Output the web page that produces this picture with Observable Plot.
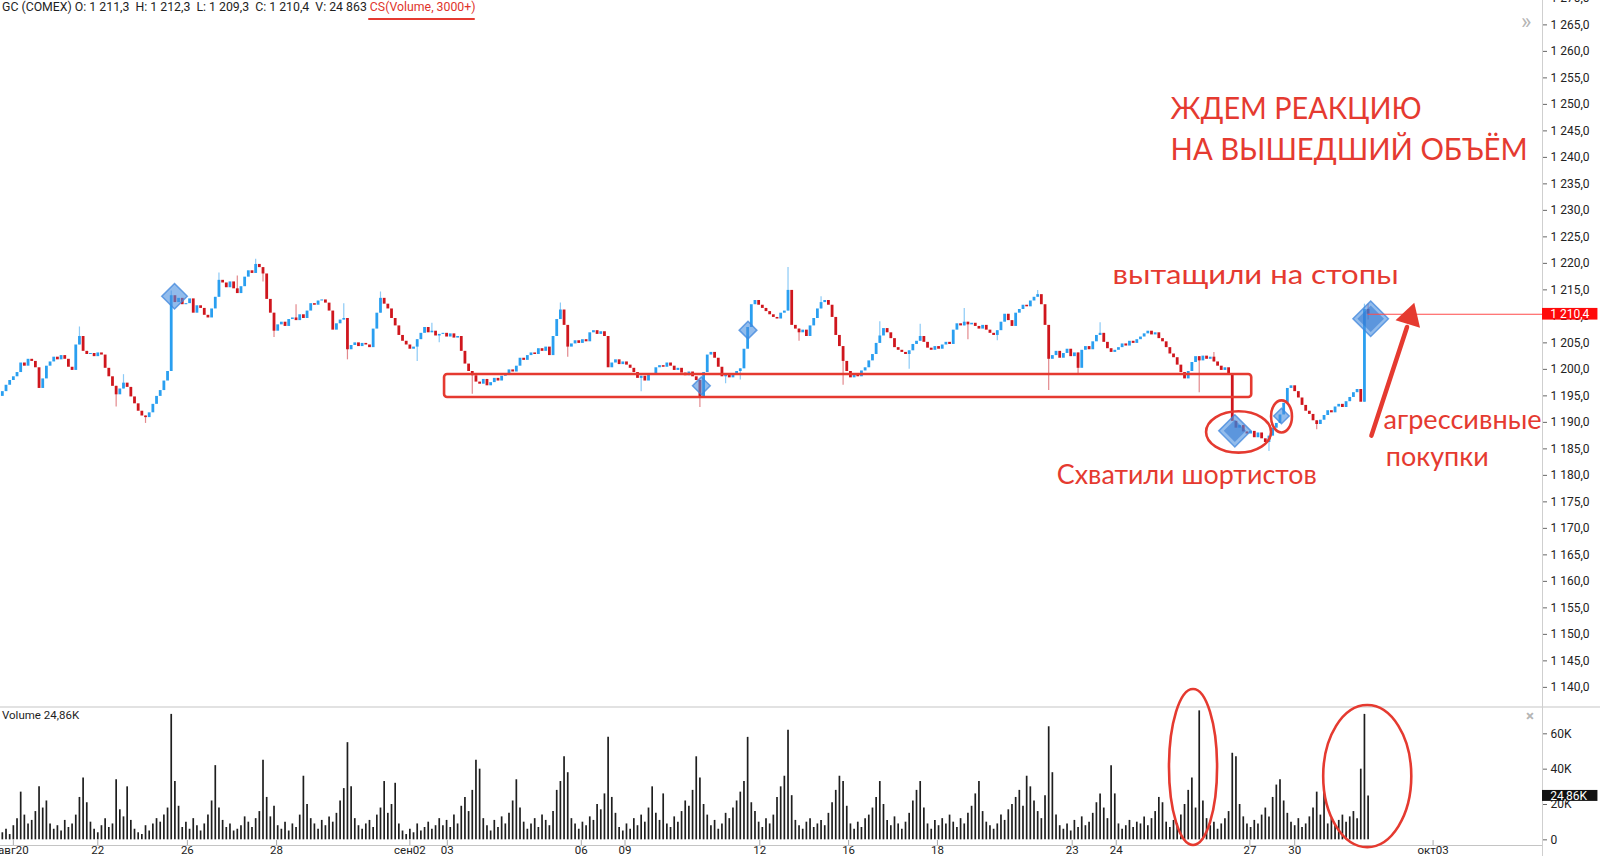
<!DOCTYPE html>
<html><head><meta charset="utf-8">
<script src="https://cdn.jsdelivr.net/npm/d3@7"></script>
<script src="https://cdn.jsdelivr.net/npm/@observablehq/plot@0.6"></script>
<style>
html,body{margin:0;padding:0;background:#fff;}
#wrap{position:relative;width:1600px;height:856px;overflow:hidden;font-family:Roboto,"Noto Sans",sans-serif;color:#222;}
#wrap svg{position:absolute;left:0;}
.hdr{position:absolute;left:2px;top:0px;font-size:12.3px;line-height:15px;white-space:pre;color:#1e1e1e;}
.hdr .cs{color:#e0332b;}
.uline{position:absolute;left:368px;top:18px;width:107px;height:2px;background:#e53a30;border-radius:1px;}
.sep{position:absolute;left:0;top:706px;width:1600px;height:2px;background:#e2e2e2;}
.vax{position:absolute;left:1542px;top:0;width:1px;height:856px;background:#cfcfcf;}
.chev{position:absolute;left:1521px;top:10px;font-size:22px;color:#b5b5b5;line-height:24px;}
.close{position:absolute;left:1526px;top:707px;font-size:15px;font-weight:bold;color:#b5b5b5;line-height:18px;}
.vlab{position:absolute;left:2px;top:708px;font-size:11.5px;line-height:14px;color:#1e1e1e;}
</style></head>
<body><div id="wrap"></div>
<script>
// ---------------- DATA ----------------
// 2-hour bars, GC (COMEX), 20 Aug – 2 Oct; close prices
const firstOpen = 1194.9;
const closes = [
1195.8,1197.0,1197.9,1198.6,1199.4,1201.2,1200.6,1201.9,1201.5,1200.3,
1196.4,1198.2,1200.6,1201.4,1202.3,1201.8,1202.6,1201.9,1200.4,1199.8,
1204.6,1206.2,1203.4,1202.8,1203.0,1202.4,1203.1,1202.7,1200.2,1198.6,
1196.8,1195.2,1196.3,1197.4,1196.6,1194.8,1193.5,1192.1,1191.2,1190.9,
1191.8,1193.4,1194.9,1196.0,1197.8,1199.6,1213.9,1212.6,1213.4,1212.2,
1212.4,1213.3,1210.6,1212.0,1211.5,1210.2,1209.7,1211.4,1213.6,1216.8,
1216.3,1215.4,1216.5,1215.2,1214.3,1215.6,1217.4,1218.6,1218.1,1219.8,
1219.2,1218.0,1213.2,1210.6,1207.2,1208.4,1208.9,1208.1,1209.4,1209.7,
1209.2,1210.3,1209.6,1211.0,1212.4,1212.1,1212.9,1213.1,1212.5,1211.0,
1207.4,1208.6,1209.3,1209.6,1203.7,1204.5,1205.0,1204.3,1204.9,1204.6,
1204.1,1207.6,1210.6,1213.4,1212.3,1211.4,1209.6,1208.2,1206.4,1205.3,
1204.6,1203.8,1204.2,1205.6,1206.8,1207.9,1206.9,1207.2,1206.3,1206.6,
1206.8,1206.1,1206.7,1205.9,1206.2,1203.4,1201.0,1199.6,1198.8,1197.6,
1197.2,1198.1,1196.9,1197.5,1198.3,1197.8,1198.7,1199.2,1199.9,1199.5,
1200.6,1202.1,1201.7,1202.6,1203.1,1202.8,1203.9,1203.4,1204.2,1202.6,
1206.2,1209.4,1211.2,1208.3,1204.2,1204.8,1205.4,1204.9,1205.6,1205.2,
1206.9,1207.3,1206.6,1207.1,1206.2,1200.3,1201.2,1201.8,1200.9,1201.4,
1200.8,1200.2,1199.4,1198.3,1198.7,1197.8,1199.1,1198.9,1200.3,1200.7,
1200.4,1201.2,1200.6,1199.8,1200.2,1199.3,1198.8,1199.5,1198.6,1197.9,
1194.6,1199.4,1202.7,1203.2,1202.1,1200.4,1198.6,1199.0,1198.4,1199.2,
1199.6,1200.1,1203.8,1207.9,1212.2,1213.0,1212.1,1211.5,1210.9,1210.3,
1209.8,1209.5,1210.6,1211.0,1214.9,1208.3,1207.6,1206.9,1207.4,1206.2,
1208.2,1209.6,1211.4,1212.6,1213.0,1212.1,1209.8,1206.4,1204.3,1201.5,
1199.6,1198.4,1199.0,1198.6,1199.7,1200.3,1201.6,1202.8,1204.9,1206.3,
1207.7,1206.9,1205.8,1204.1,1203.6,1203.2,1202.8,1203.5,1204.7,1205.3,
1206.2,1205.1,1204.0,1203.6,1204.3,1203.8,1204.6,1205.1,1204.7,1207.4,
1208.6,1208.2,1208.9,1208.4,1208.7,1208.1,1207.6,1208.3,1207.4,1206.8,
1206.4,1207.3,1208.9,1210.4,1209.2,1208.1,1210.6,1211.3,1212.1,1211.8,
1212.9,1213.6,1214.1,1212.2,1208.3,1201.9,1202.6,1203.4,1202.1,1203.0,
1203.8,1202.4,1203.1,1200.2,1203.6,1204.3,1203.7,1205.2,1206.4,1206.8,
1205.1,1203.9,1203.2,1203.6,1204.1,1204.8,1204.4,1205.3,1204.9,1205.6,
1206.1,1206.7,1207.2,1206.5,1206.9,1205.8,1205.2,1204.1,1202.9,1202.2,
1200.8,1199.4,1198.2,1199.6,1201.3,1202.4,1201.6,1202.5,1201.9,1202.3,
1201.4,1200.6,1199.8,1200.3,1199.2,1190.2,1188.9,1189.4,1188.2,1187.8,
1188.3,1187.1,1188.0,1186.9,1186.2,1187.4,1188.9,1189.8,1191.4,1193.6,
1196.4,1196.9,1195.8,1194.6,1193.2,1192.1,1191.5,1190.3,1189.6,1190.4,
1191.3,1192.2,1191.8,1192.9,1193.4,1192.8,1193.9,1194.7,1195.6,1196.2,
1193.8,1211.3,1210.4
];
// volume per bar, thousands of contracts
const volumes = [
4,6,3,8,12,27,14,9,11,16,
30,18,22,9,6,8,5,11,7,9,
14,24,35,21,10,6,4,8,12,7,
9,34,17,13,30,11,6,4,3,8,
5,9,12,10,14,18,71,33,19,7,
10,6,12,8,5,9,14,22,42,18,
11,7,9,5,6,8,13,10,7,12,
16,45,24,13,19,8,6,10,5,9,
7,14,36,20,12,9,6,11,8,13,
10,15,22,29,55,30,12,8,6,9,
11,7,14,18,33,15,20,32,9,5,
3,6,4,9,5,7,10,6,8,12,
8,11,7,14,9,19,24,16,28,45,
40,12,8,5,11,7,13,9,15,22,
34,18,10,6,9,12,7,14,11,8,
16,28,33,47,38,12,9,6,10,8,
13,11,20,17,26,58,24,15,7,5,
9,6,12,8,14,10,18,30,15,11,
26,9,7,13,10,16,22,19,28,47,
35,20,14,8,11,6,9,15,12,18,
22,27,33,58,21,16,10,7,12,9,
14,24,30,36,62,25,11,8,6,10,
12,7,9,11,8,15,21,28,36,33,
19,9,6,10,7,12,14,18,24,33,
20,11,8,13,9,6,10,15,22,28,
33,18,9,6,11,8,12,9,14,10,
7,12,9,15,19,26,33,16,10,8,
6,9,14,11,17,20,24,28,19,36,
30,22,16,12,25,64,38,14,8,6,
9,5,11,7,13,8,10,15,21,26,
18,12,42,26,9,6,8,11,7,10,
9,13,8,12,16,24,21,10,7,11,
9,14,20,28,35,18,73,22,12,8,
10,6,9,12,16,49,47,20,13,9,
7,11,9,14,18,13,24,31,34,22,
15,10,8,12,7,9,13,18,27,14,
29,9,12,8,11,14,10,13,16,12,
40,71,24.86
];
// notable wicks: bar index, high, low (null = body end)
const wickIdx  = [21, 31, 33, 39, 46, 59, 64, 69, 71, 74, 80, 93, 94, 103, 113, 117, 119, 128, 152, 154, 174, 190, 197, 201, 214, 217, 223, 229, 239, 247, 250, 262, 263, 271, 282, 285, 293, 299, 326, 330, 345, 358, 371, 372];
const wickHigh = [1208.0, null, 1199.0, null, 1214.8, 1218.2, 1217.6, 1220.8, null, null, 1212.2, 1212.4, null, 1214.6, null, 1208.7, null, null, 1212.5, null, null, null, null, null, 1219.2, null, 1213.7, null, 1209.0, null, 1208.5, 1211.5, null, null, 1214.9, null, null, 1208.8, null, 1203.2, null, null, 1212.3, 1212.3];
const wickLow  = [null, 1192.9, null, 1189.8, null, null, null, null, 1216.5, 1206.0, null, null, 1201.8, null, 1201.5, null, 1205.0, 1195.3, null, 1202.3, 1195.8, 1192.8, 1197.3, 1198.0, null, 1205.3, null, 1197.0, null, 1200.0, null, null, 1205.6, 1205.4, null, 1196.0, 1199.0, null, 1195.6, null, 1184.5, 1188.6, null, 1209.3];

const xTickIdx    = [3, 26, 50.4, 74.7, 111, 121.2, 157.7, 169.6, 206.3, 230.5, 254.7, 291.4, 303.4, 339.8, 352, 389.7];
const xTickLabels = ["авг20","22","26","28","сен02","03","06","09","12","16","18","23","24","27","30","окт03"];
const priceTicks = [1140,1145,1150,1155,1160,1165,1170,1175,1180,1185,1190,1195,1200,1205,1210,1215,1220,1225,1230,1235,1240,1245,1250,1255,1260,1265,1270];
const volTicks = [0, 20, 40, 60];
const lastPrice = 1210.4;
const lastVolume = 24.86;

// signals (cluster search CS(Volume, 3000+)): bar index, price
const sigIdx   = [46.9, 190.4, 203.1, 335.7, 348.4, 372.7];
const sigPrice = [1213.8, 1196.9, 1207.4, 1188.4, 1191.2, 1209.55];
const sigLevel = ["mid", "small", "small", "big", "tiny", "huge"];
// annotations (data coords)
const zone = {x1: 120.45, x2: 340.3, y1: 1199.04, y2: 1194.7};
const priceRings = [{x1: 328.0, x2: 345.7, y1: 1192.0, y2: 1184.2}, {x1: 345.7, x2: 351.4, y1: 1194.06, y2: 1188.0}];
const volRings = [{x1: 317.9, x2: 331.0, y1: 85.1, y2: -3.2}, {x1: 359.9, x2: 383.9, y1: 76.0, y2: -4.4}];
const arrowShaft = {x1: 372.9, y1: 1187.5, x2: 382.6, y2: 1208.0};
const arrowHead = {x: 383.4, y: 1209.9};
const noteCaps = ["ЖДЕМ РЕАКЦИЮ", "НА ВЫШЕДШИЙ ОБЪЁМ"];
const noteCapsX = [318.2, 318.2];
const noteCapsY = [1249.05, 1241.35];
const notes = ["вытащили на стопы", "Схватили шортистов", "агрессивные", "покупки"];
const notesX = [302.4, 287.2, 376.2, 376.8];
const notesY = [1217.76, 1179.98, 1190.24, 1183.3];

// ---------------- STYLE ----------------
const UP = "#2a9ff0", DN = "#cf161d", UPW = "#8ccaf6", DNW = "#e3898d";
const RED = "#e53a30";
const X_DOMAIN = [-0.5, 419.5];
const rBy = {tiny: 7, small: 8, mid: 11.5, big: 14.5, huge: 16};
const coreBy = {big: 10, huge: 12};
const textWidths = {"ЖДЕМ РЕАКЦИЮ": 251, "НА ВЫШЕДШИЙ ОБЪЁМ": 357, "вытащили на стопы": 286, "Схватили шортистов": 260, "агрессивные": 158, "покупки": 103};

const fmtPrice = d => d3.format(",.1f")(d).replace(/,/g, " ").replace(".", ",");
const fmtVol = d => d === 0 ? "0" : d + "K";
const tickLabelOf = new Map(xTickIdx.map((d, k) => [d, xTickLabels[k]]));

const bars = closes.map((c, i) => {
  const o = i === 0 ? firstOpen : closes[i - 1];
  const k = wickIdx.indexOf(i);
  const hi = k >= 0 && wickHigh[k] != null ? wickHigh[k] : Math.max(o, c);
  const lo = k >= 0 && wickLow[k] != null ? wickLow[k] : Math.min(o, c);
  return {i, o, c, hi, lo, v: volumes[i], up: c >= o, wick: k >= 0};
});
const signals = sigIdx.map((x, k) => ({x, y: sigPrice[k], level: sigLevel[k]}));
const capNotes = noteCaps.map((t, k) => ({t, x: noteCapsX[k], y: noteCapsY[k]}));
const lowNotes = notes.map((t, k) => ({t, x: notesX[k], y: notesY[k]}));

const wrap = document.getElementById("wrap");
wrap.insertAdjacentHTML("beforeend", '<div class="sep"></div><div class="vax"></div>');

// ---------------- PRICE PANE ----------------
const sigMarks = Object.keys(rBy).flatMap(level => {
  const sub = signals.filter(d => d.level === level);
  const m = [Plot.dot(sub, {x: "x", y: "y", r: rBy[level], symbol: "diamond2", fill: "#4a8fe0", fillOpacity: 0.6, stroke: "#3f86dc", strokeOpacity: 0.75, strokeWidth: 1.5})];
  if (coreBy[level]) m.push(Plot.dot(sub, {x: "x", y: "y", r: coreBy[level], symbol: "diamond2", fill: "#2f76d2", fillOpacity: 0.55}));
  return m;
});

const price = Plot.plot({
  width: 1600, height: 707,
  marginTop: 0, marginBottom: 0, marginLeft: 0, marginRight: 58,
  x: {domain: X_DOMAIN, axis: null},
  y: {domain: [1136.2, 1269.6]},
  style: {background: "transparent", overflow: "visible", fontFamily: "Roboto, sans-serif", fontSize: "12px", color: "#222"},
  marks: [
    Plot.axisY(priceTicks, {anchor: "right", tickSize: 4, tickPadding: 4, tickFormat: fmtPrice, stroke: "#666", fill: "#222"}),
    Plot.ruleX(bars.filter(d => d.wick), {x: "i", y1: "lo", y2: "hi", stroke: d => d.up ? UPW : DNW, strokeWidth: 1.2}),
    Plot.ruleX(bars, {x: "i", y1: "o", y2: "c", stroke: d => d.up ? UP : DN, strokeWidth: 2.8}),
    Plot.rect([zone], {x1: "x1", x2: "x2", y1: "y1", y2: "y2", fill: "none", stroke: RED, strokeWidth: 2.6, rx: 3, ry: 3}),
    Plot.rect(priceRings, {x1: "x1", x2: "x2", y1: "y1", y2: "y2", fill: "none", stroke: RED, strokeWidth: 2.6, rx: 999, ry: 999}),
    ...sigMarks,
    Plot.ruleY([lastPrice], {x1: 372, x2: 419.5, stroke: "#ff4b4b", strokeWidth: 1}),
    Plot.link([arrowShaft], {x1: "x1", y1: "y1", x2: "x2", y2: "y2", stroke: RED, strokeWidth: 4.5, strokeLinecap: "round"}),
    Plot.dot([arrowHead], {x: "x", y: "y", r: 9.5, symbol: "triangle", fill: RED, rotate: 17}),
    Plot.rect([lastPrice], {x1: 419.5, x2: 434.6, y1: d => d - 1.1, y2: d => d + 1.1, fill: "#ff0a0a"}),
    Plot.text([lastPrice], {x: 421.6, y: d => d, text: fmtPrice, fill: "white", textAnchor: "start", fontSize: 12}),
    Plot.text(capNotes, {x: "x", y: "y", text: "t", textAnchor: "start", fill: RED, fontSize: 30, fontFamily: "Lato, 'Open Sans', sans-serif"}),
    Plot.text(lowNotes, {x: "x", y: "y", text: "t", textAnchor: "start", fill: RED, fontSize: 26, fontFamily: "Lato, 'Open Sans', sans-serif"})
  ]
});
price.style.top = "0px";
wrap.appendChild(price);

// ---------------- VOLUME PANE ----------------
const vol = Plot.plot({
  width: 1600, height: 176,
  marginTop: 27, marginBottom: 11, marginLeft: 0, marginRight: 58,
  x: {domain: X_DOMAIN},
  y: {domain: [-3.2, 74.9]},
  style: {background: "transparent", overflow: "visible", fontFamily: "Roboto, sans-serif", fontSize: "12px", color: "#222"},
  marks: [
    Plot.axisY(volTicks, {anchor: "right", tickSize: 4, tickPadding: 4, tickFormat: fmtVol, stroke: "#666", fill: "#222"}),
    Plot.axisX(xTickIdx, {anchor: "bottom", tickSize: 0, tickPadding: 0.5, tickFormat: d => tickLabelOf.get(d), fill: "#222", fontSize: 11.5}),
    Plot.ruleX(xTickIdx, {y1: -3.2, y2: -0.4, stroke: "#aaa"}),
    Plot.ruleY([-3.2], {stroke: "#c4c4c4", strokeWidth: 1.2}),
    Plot.ruleX(bars, {x: "i", y1: 0, y2: "v", stroke: "#1e1e1e", strokeWidth: 1.7}),
    Plot.rect(volRings, {x1: "x1", x2: "x2", y1: "y1", y2: "y2", fill: "none", stroke: RED, strokeWidth: 2.6, rx: 999, ry: 999}),
    Plot.rect([lastVolume], {x1: 419.5, x2: 434.6, y1: d => d - 3.1, y2: d => d + 3.1, fill: "#111"}),
    Plot.text([lastVolume], {x: 421.6, y: d => d, text: d => d3.format(".2f")(d).replace(".", ",") + "K", fill: "white", textAnchor: "start", fontSize: 12})
  ]
});
vol.style.top = "680px";
wrap.appendChild(vol);

// fit hand-written notes to their measured widths
price.querySelectorAll("text").forEach(t => {
  const w = textWidths[t.textContent];
  if (w) { t.setAttribute("textLength", w); t.setAttribute("lengthAdjust", "spacingAndGlyphs"); }
});

// header & chrome
wrap.insertAdjacentHTML("beforeend",
  '<div class="hdr">GC (COMEX) O: 1 211,3  H: 1 212,3  L: 1 209,3  C: 1 210,4  V: 24 863 <span class="cs">CS(Volume, 3000+)</span></div>' +
  '<div class="uline"></div><div class="chev">»</div><div class="close">×</div>' +
  '<div class="vlab">Volume 24,86K</div>');
</script>
</body></html>
